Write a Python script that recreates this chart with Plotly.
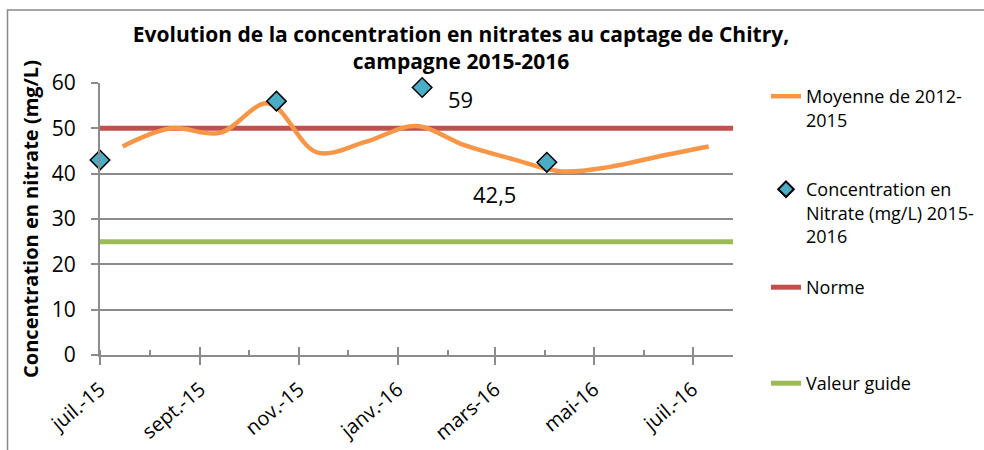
import plotly.graph_objects as go
import datetime as _dt

# ---- data ----
avg_dates = ["2015-07-15", "2015-08-14", "2015-09-13", "2015-10-13", "2015-11-12",
             "2015-12-12", "2016-01-12", "2016-02-11", "2016-03-12", "2016-04-11",
             "2016-05-11", "2016-06-10", "2016-07-11"]
avg_values = [46, 50, 49, 55.5, 44.7, 47, 50.5, 46.3, 43.2, 40.5, 41.5, 43.8, 46]

conc_dates = ["2015-07-01", "2015-10-18", "2016-01-16", "2016-04-02"]
conc_values = [43, 56, 59, 42.5]

norme_value = 50
guide_value = 25
x_range = ["2015-07-01", "2016-07-26"]

labelled_points = [2, 3]   # indices of concentration points with data labels
label_shifts = {2: (38, -11), 3: (-52, -32)}

month_fr = {1: "janv.", 3: "mars", 5: "mai", 7: "juil.", 9: "sept.", 11: "nov."}

title_text = "Evolution de la concentration en nitrates au captage de Chitry,<br>campagne 2015-2016"
y_title = "Concentration en nitrate (mg/L)"
names = ["Moyenne de 2012-<br>2015", "Concentration en<br>Nitrate (mg/L) 2015-<br>2016", "Norme", "Valeur guide"]

# ---- layout geometry (pixels) ----
W, H = 984, 450
L, R, T, B = 100, 733, 83, 355
def px(x):
    return (x - L) / (R - L)
def py(y):
    return (B - y) / (B - T)

FONT = "Open Sans"
GRID = "#8c8c8c"

# tick values every two months, French labels
tv, tt = [], []
d = _dt.date(2015, 7, 1)
end = _dt.date.fromisoformat(x_range[1])
while d <= end:
    tv.append(d.isoformat())
    tt.append(f"{month_fr[d.month]}-{d.strftime('%y')}")
    m = d.month + 2
    d = _dt.date(d.year + (m - 1) // 12, (m - 1) % 12 + 1, 1)

fig = go.Figure()
fig.add_trace(go.Scatter(x=x_range, y=[norme_value] * 2, mode="lines", name=names[2],
                         line=dict(color="#C0504D", width=5), legend="legend3"))
fig.add_trace(go.Scatter(x=x_range, y=[guide_value] * 2, mode="lines", name=names[3],
                         line=dict(color="#9BBB59", width=5), legend="legend4"))
fig.add_trace(go.Scatter(x=avg_dates, y=avg_values, mode="lines", name=names[0],
                         line=dict(color="#F79646", width=4.5, shape="spline", smoothing=1.0),
                         legend="legend"))
fig.add_trace(go.Scatter(x=conc_dates, y=conc_values, mode="markers", name=names[1],
                         cliponaxis=False,
                         marker=dict(symbol="diamond", size=15, color="#4BACC6",
                                     line=dict(color="black", width=1.5)),
                         legend="legend2"))
# invisible trace so the overlay axis (crossing major ticks) renders
fig.add_trace(go.Scatter(x=x_range, y=[None, None], xaxis="x2", showlegend=False,
                         hoverinfo="skip", mode="lines"))

annotations = []
for i in labelled_points:
    dx, dy = label_shifts[i]
    annotations.append(dict(x=conc_dates[i], y=conc_values[i], xref="x", yref="y",
                            text=f"{conc_values[i]:g}".replace(".", ","), showarrow=False,
                            xshift=dx, yshift=dy, font=dict(family=FONT, size=22, color="black")))

leg_common = dict(xanchor="left", yanchor="top", valign="top", bgcolor="rgba(0,0,0,0)",
                  font=dict(family=FONT, size=18, color="black"))
sym_y = [96, 191, 287, 383]
sym_off = [18, 20, 18, 18]

fig.update_layout(
    width=W, height=H,
    margin=dict(l=L, r=W - R, t=T, b=H - B, autoexpand=False),
    paper_bgcolor="white", plot_bgcolor="white",
    title=dict(text=title_text, x=461 / W, xref="container", xanchor="center",
               y=1 - 42 / H, yref="container", yanchor="middle",
               font=dict(family=FONT, size=21, color="black", weight="bold")),
    xaxis=dict(type="date", range=x_range, tickmode="array", tickvals=tv, ticktext=tt,
               tickangle=-40, showgrid=False, zeroline=False,
               showline=True, linecolor=GRID, linewidth=2,
               ticks="outside", ticklen=8, tickwidth=2, tickcolor=GRID,
               ticklabelstandoff=5,
               minor=dict(dtick="M1", tick0="2015-07-01", ticks="inside", ticklen=5,
                          tickwidth=1.5, tickcolor=GRID),
               tickfont=dict(family=FONT, size=20, color="black")),
    xaxis2=dict(type="date", range=x_range, tickmode="array", tickvals=tv, overlaying="x",
                showticklabels=False, showgrid=False, zeroline=False, showline=False,
                ticks="inside", ticklen=8, tickwidth=2, tickcolor=GRID),
    yaxis=dict(range=[0, 60], dtick=10, showgrid=True, gridcolor=GRID, gridwidth=2,
               zeroline=False, showline=True, linecolor=GRID, linewidth=2,
               ticks="outside", ticklen=7, tickwidth=2, tickcolor=GRID,
               ticklabelstandoff=11,
               tickfont=dict(family=FONT, size=21, color="black"),
               title=dict(text=y_title, standoff=8,
                          font=dict(family=FONT, size=20, color="black", weight="bold"))),
    legend=dict(x=px(766), y=py(sym_y[0] - sym_off[0]), **leg_common),
    legend2=dict(x=px(766), y=py(sym_y[1] - sym_off[1]), itemsizing="constant", **leg_common),
    legend3=dict(x=px(766), y=py(sym_y[2] - sym_off[2]), **leg_common),
    legend4=dict(x=px(766), y=py(sym_y[3] - sym_off[3]), **leg_common),
    annotations=annotations,
    shapes=[dict(type="rect", xref="paper", yref="paper", x0=px(7.5), y0=py(480),
                 x1=px(1010), y1=py(10), line=dict(color="#888888", width=1.5),
                 fillcolor="rgba(0,0,0,0)", layer="below")],
    showlegend=True,
)

fig.write_html("out.html", config={"displayModeBar": False},
               post_script="document.body.style.margin='0';")
